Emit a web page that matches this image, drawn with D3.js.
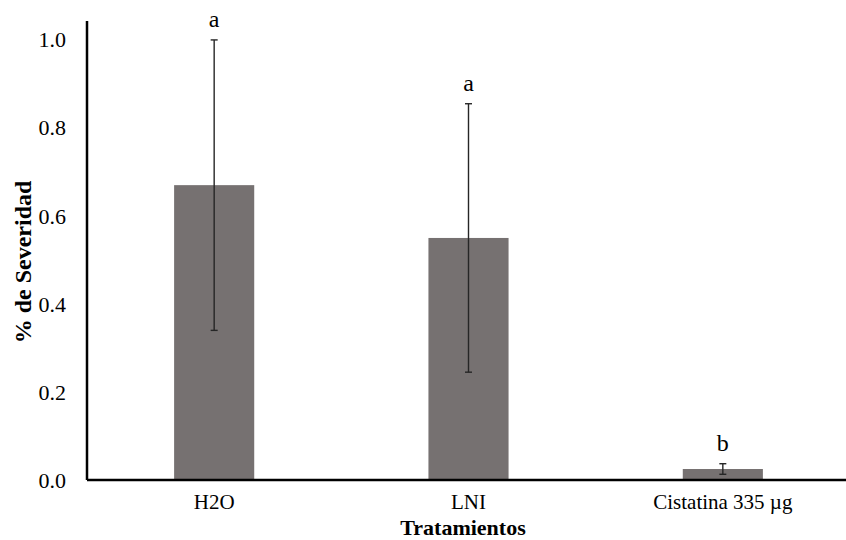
<!DOCTYPE html>
<html>
<head>
<meta charset="utf-8">
<script src="https://cdn.jsdelivr.net/npm/d3@7"></script>
<style>
  body { margin: 0; background: #fff; }
  svg text { font-family: "Liberation Serif", "Times New Roman", serif !important; }
</style>
</head>
<body>
<div id="chart"></div>
<script>
// data
const categories = ["H2O", "LNI", "Cistatina 335 µg"];
const means = [0.67, 0.55, 0.025];
const errors = [0.33, 0.305, 0.012];
const letters = ["a", "a", "b"];
const yTicks = [0.0, 0.2, 0.4, 0.6, 0.8, 1.0];

const width = 846;
const height = 540;
const margin = { top: 21, right: -4, bottom: 60, left: 87 };
const h = height - margin.top - margin.bottom;
const w = width - margin.left - margin.right;
const serif = "Liberation Serif, Times New Roman, serif";

const svg = d3.select("#chart")
  .append("svg")
  .attr("width", width)
  .attr("height", height);

const g = svg.append("g")
  .attr("transform", "translate(" + margin.left + "," + margin.top + ")");

// scales
const x = d3.scaleBand()
  .domain(categories)
  .range([0, w])
  .paddingInner(0.685)
  .paddingOuter(0.3425);

const yMax = 1.043;
const y = d3.scaleLinear()
  .domain([0, yMax])
  .range([h, 0]);

// bars
g.selectAll(".bar")
  .data(categories)
  .enter().append("rect")
  .attr("class", "bar")
  .attr("x", d => x(d))
  .attr("y", (d, i) => y(means[i]))
  .attr("width", x.bandwidth())
  .attr("height", (d, i) => y(0) - y(means[i]))
  .attr("fill", "#767171");

// error bars
const eb = g.selectAll(".err")
  .data(categories)
  .enter().append("g")
  .attr("class", "err")
  .attr("stroke", "#262626")
  .attr("stroke-width", 1.4);

eb.append("line")
  .attr("x1", d => x(d) + x.bandwidth() / 2)
  .attr("x2", d => x(d) + x.bandwidth() / 2)
  .attr("y1", (d, i) => y(means[i] + errors[i]))
  .attr("y2", (d, i) => y(means[i] - errors[i]));

[1, -1].forEach(s => {
  eb.append("line")
    .attr("x1", d => x(d) + x.bandwidth() / 2 - 3.5)
    .attr("x2", d => x(d) + x.bandwidth() / 2 + 3.5)
    .attr("y1", (d, i) => y(means[i] + s * errors[i]))
    .attr("y2", (d, i) => y(means[i] + s * errors[i]));
});

// significance letters
g.selectAll(".letter")
  .data(categories)
  .enter().append("text")
  .attr("class", "letter")
  .attr("x", d => x(d) + x.bandwidth() / 2)
  .attr("y", (d, i) => y(means[i] + errors[i]) - 13)
  .attr("text-anchor", "middle")
  .attr("font-family", serif)
  .attr("font-size", 24)
  .attr("fill", "#000")
  .text((d, i) => letters[i]);

// y axis
const yAxis = g.append("g")
  .call(d3.axisLeft(y).tickValues(yTicks).tickFormat(d3.format(".1f")).tickSize(0).tickPadding(21));
yAxis.attr("font-family", serif).attr("font-size", 22);
yAxis.select(".domain").remove();
yAxis.selectAll("text").attr("fill", "#000");

g.append("line")
  .attr("x1", 0).attr("x2", 0)
  .attr("y1", 0).attr("y2", h)
  .attr("stroke", "#000")
  .attr("stroke-width", 2.5);

// x axis
const xAxis = g.append("g")
  .attr("transform", "translate(0," + h + ")")
  .call(d3.axisBottom(x).tickSize(0).tickPadding(14));
xAxis.attr("font-family", serif).attr("font-size", 21);
xAxis.select(".domain").remove();
xAxis.selectAll("text").attr("fill", "#000");

g.append("line")
  .attr("x1", 0).attr("x2", w)
  .attr("y1", h).attr("y2", h)
  .attr("stroke", "#000")
  .attr("stroke-width", 2.5);

// axis titles
svg.append("text")
  .attr("x", 463)
  .attr("y", 535)
  .attr("text-anchor", "middle")
  .attr("font-family", serif)
  .attr("font-size", 22)
  .attr("font-weight", "bold")
  .text("Tratamientos");

svg.append("text")
  .attr("transform", "translate(31,262) rotate(-90)")
  .attr("text-anchor", "middle")
  .attr("font-family", serif)
  .attr("font-size", 24)
  .attr("font-weight", "bold")
  .text("% de Severidad");
</script>
</body>
</html>
